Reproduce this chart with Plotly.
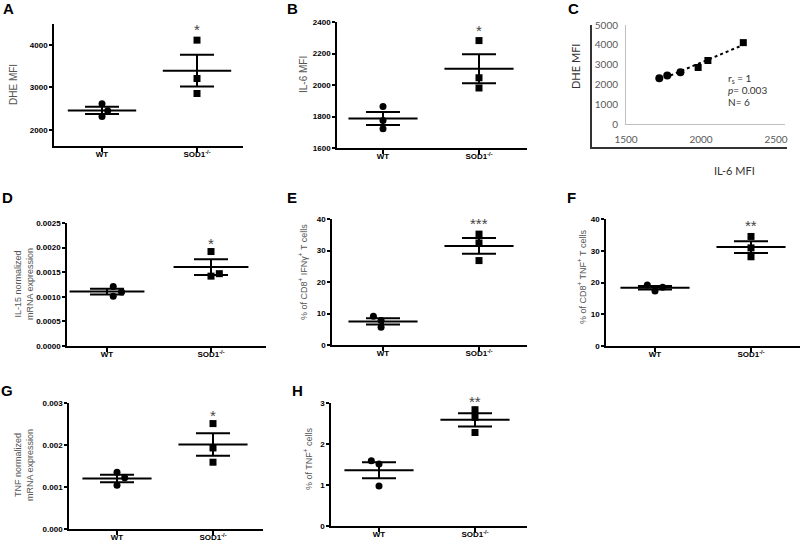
import numpy as np
import plotly.graph_objects as go

W, H = 800, 542

groups = ["WT", "SOD1<sup>-/-</sup>"]

# ---- data ----
dhe_wt = [2612, 2447, 2314]
dhe_sod1 = [4110, 3208, 2855]
il6_wt = [1863, 1775, 1722]
il6_sod1 = [2282, 2046, 1981]
il15_wt = [0.00121, 0.00101, 0.00110]
il15_sod1 = [0.00192, 0.00142, 0.00147]
ifng_wt = [9.1, 7.8, 5.6]
ifng_sod1 = [35.2, 32.4, 26.8]
cd8tnf_wt = [19.2, 17.3, 18.5]
cd8tnf_sod1 = [34.5, 30.9, 28.1]
tnfmrna_wt = [0.00135, 0.00104, 0.00122]
tnfmrna_sod1 = [0.00251, 0.00193, 0.00159]
tnfcells_wt = [1.594, 1.51, 0.973]
tnfcells_sod1 = [2.837, 2.65, 2.28]

stars = {"A": "*", "B": "*", "D": "*", "E": "***", "F": "**", "G": "*", "H": "**"}
corr_text = ["r<sub>s</sub> = 1", "<i>p</i>= 0.003", "N= 6"]

# ---- layout geometry (pixels) ----
TICKFONT = dict(family="Liberation Sans, Arial", size=8, color="black", weight="bold")

panels = [
    dict(key="A", wt=dhe_wt, ko=dhe_sod1, box=(54, 243, 24, 146), cat=(102, 197),
         yr=[1620, 4490], tv=[2000, 3000, 4000], fmt="d", sy=29,
         title="DHE MFI", tx=14, ty=85, ts=10, wdx=[0, 0.06, 0], kdx=[0, 0, 0]),
    dict(key="B", wt=il6_wt, ko=il6_sod1, box=(337, 527, 22, 148), cat=(383, 479),
         yr=[1600, 2400], tv=[1600, 1800, 2000, 2200, 2400], fmt="d", sy=30,
         title="IL-6 MFI", tx=303, ty=75, ts=10, wdx=[0, 0, 0], kdx=[0, 0, 0]),
    dict(key="D", wt=il15_wt, ko=il15_sod1, box=(67, 266, 223, 346), cat=(107, 211),
         yr=[0, 0.0025], tv=[0, 0.0005, 0.001, 0.0015, 0.002, 0.0025], fmt=".4f", sy=243,
         title="IL-15 normalized<br>mRNA expression", tx=24, ty=284, ts=9,
         wdx=[0.06, 0.06, 0.14], kdx=[0, 0, 0.08]),
    dict(key="E", wt=ifng_wt, ko=ifng_sod1, box=(332, 527, 219, 345), cat=(383, 479),
         yr=[0, 40], tv=[0, 10, 20, 30, 40], fmt="d", sy=224,
         title="% of CD8<sup>+</sup> IFNγ<sup>+</sup> T cells", tx=303, ty=272, ts=9,
         wdx=[-0.1, -0.02, -0.02], kdx=[0, 0, 0]),
    dict(key="F", wt=cd8tnf_wt, ko=cd8tnf_sod1, box=(606, 800, 219, 346), cat=(655, 751),
         yr=[0, 40], tv=[0, 10, 20, 30, 40], fmt="d", sy=225,
         title="% of CD8<sup>+</sup> TNF<sup>+</sup> T cells", tx=582, ty=277, ts=9,
         wdx=[-0.08, 0, 0.08], kdx=[0, 0, 0]),
    dict(key="G", wt=tnfmrna_wt, ko=tnfmrna_sod1, box=(69, 263, 403, 529), cat=(117, 213),
         yr=[0, 0.003], tv=[0, 0.001, 0.002, 0.003], fmt=".3f", sy=415,
         title="TNF normalized<br>mRNA expression", tx=24, ty=465, ts=9,
         wdx=[0, 0, 0.08], kdx=[0, 0, 0]),
    dict(key="H", wt=tnfcells_wt, ko=tnfcells_sod1, box=(331, 527, 403, 526), cat=(379, 475),
         yr=[0, 3], tv=[0, 1, 2, 3], fmt="d", sy=401,
         title="% of TNF<sup>+</sup> cells", tx=308, ty=459, ts=9,
         wdx=[-0.08, 0, 0], kdx=[0, 0, 0]),
]

letters = {"A": (8, 8), "B": (292, 8), "C": (573, 8), "D": (7, 198),
           "E": (292, 198), "F": (571, 198), "G": (7, 390), "H": (297, 390)}

fig = go.Figure()
layout = dict(width=W, height=H, autosize=False, margin=dict(l=0, r=0, t=0, b=0, pad=0),
              paper_bgcolor="white", plot_bgcolor="rgba(0,0,0,0)", showlegend=False)
annotations = []

def px_x(p):
    return p / W

def px_y(p):
    return 1 - p / H

for i, p in enumerate(panels, start=1):
    xa, ya = f"x{i}", f"y{i}"
    left, right, top, bottom = p["box"]
    cw, ck = p["cat"]
    sp = ck - cw
    xr = [1 - (cw - left) / sp, 2 + (right - ck) / sp]
    layout[f"xaxis{i}"] = dict(domain=[px_x(left), px_x(right)], range=xr, anchor=ya,
                               tickvals=[1, 2], ticktext=groups, ticks="outside", ticklen=4,
                               tickwidth=1.5, tickcolor="black", showline=True, linecolor="black",
                               linewidth=1.5, showgrid=False, zeroline=False, tickfont=TICKFONT,
                               automargin=False, ticklabelstandoff=-4)
    ticktext = [(f"{v:.0f}" if p["fmt"] == "d" else format(v, p["fmt"])) for v in p["tv"]]
    layout[f"yaxis{i}"] = dict(domain=[px_y(bottom), px_y(top)], range=p["yr"], anchor=xa,
                               tickvals=p["tv"], ticktext=ticktext, ticks="outside", ticklen=3,
                               tickwidth=1.5, tickcolor="black", showline=True, linecolor="black",
                               linewidth=1.5, showgrid=False, zeroline=False, tickfont=TICKFONT,
                               automargin=False)
    for g, (vals, dx, sym) in enumerate([(p["wt"], p["wdx"], "circle"), (p["ko"], p["kdx"], "square")], start=1):
        vals = np.array(vals, dtype=float)
        m = vals.mean()
        sem = vals.std(ddof=1) / np.sqrt(len(vals))
        fig.add_trace(go.Scatter(x=[g - 0.36, g + 0.36], y=[m, m], mode="lines",
                                 line=dict(color="black", width=2), xaxis=xa, yaxis=ya,
                                 hoverinfo="skip"))
        fig.add_trace(go.Scatter(x=[g], y=[m], mode="markers", marker=dict(size=1, opacity=0),
                                 error_y=dict(type="data", array=[sem], width=17, thickness=2,
                                              color="black"),
                                 xaxis=xa, yaxis=ya, hoverinfo="skip"))
        fig.add_trace(go.Scatter(x=[g + d for d in dx], y=vals, mode="markers",
                                 marker=dict(symbol=sym, size=7, color="black"),
                                 xaxis=xa, yaxis=ya))
    annotations.append(dict(text=stars[p["key"]], x=2, xref=xa, y=px_y(p["sy"]), yref="paper",
                            showarrow=False, font=dict(family="Liberation Sans, Arial", size=15,
                                                       color="#444444"),
                            xanchor="center", yanchor="middle"))
    annotations.append(dict(text=p["title"], x=px_x(p["tx"]), y=px_y(p["ty"]), xref="paper",
                            yref="paper", textangle=-90, showarrow=False,
                            font=dict(family="Liberation Sans, Arial", size=p["ts"], color="#555555"),
                            xanchor="center", yanchor="middle"))

# ---- panel C: correlation ----
n = len(panels) + 1
xa, ya = f"x{n}", f"y{n}"
cx = np.array(il6_wt + il6_sod1, dtype=float)
cy = np.array(dhe_wt + dhe_sod1, dtype=float)
CFONT = dict(family="Lato, Liberation Sans", size=10, color="#595959")
layout[f"xaxis{n}"] = dict(domain=[px_x(626), px_x(785)], range=[1500, 2560], anchor=ya,
                           tickvals=[1500, 2000, 2500], ticks="outside", ticklen=6,
                           tickcolor="rgba(0,0,0,0)", showline=True, linecolor="#bfbfbf",
                           linewidth=1, showgrid=False, zeroline=False, tickfont=CFONT,
                           automargin=False)
layout[f"yaxis{n}"] = dict(domain=[px_y(124), px_y(25)], range=[0, 5000], anchor=xa,
                           tickvals=[0, 1000, 2000, 3000, 4000, 5000], ticks="outside", ticklen=5,
                           tickcolor="rgba(0,0,0,0)", showline=True, linecolor="#bfbfbf",
                           linewidth=1, showgrid=False, zeroline=False, tickfont=CFONT,
                           automargin=False)
slope, icpt = np.polyfit(cx, cy, 1)
lx = np.array([cx.min(), cx.max()])
fig.add_trace(go.Scatter(x=lx, y=slope * lx + icpt, mode="lines",
                         line=dict(color="black", width=2, dash="dot"), xaxis=xa, yaxis=ya))
fig.add_trace(go.Scatter(x=il6_wt, y=dhe_wt, mode="markers",
                         marker=dict(symbol="circle", size=8, color="black"), xaxis=xa, yaxis=ya))
fig.add_trace(go.Scatter(x=il6_sod1, y=dhe_sod1, mode="markers",
                         marker=dict(symbol="square", size=7, color="black"), xaxis=xa, yaxis=ya))

# outer frame of panel C
m2 = n + 1
layout[f"xaxis{m2}"] = dict(domain=[px_x(592), px_x(787)], range=[0, 1], anchor=f"y{m2}",
                            showline=True, linecolor="#333333", linewidth=1.5, showticklabels=False,
                            ticks="", showgrid=False, zeroline=False, automargin=False)
layout[f"yaxis{m2}"] = dict(domain=[px_y(147), px_y(25)], range=[0, 1], anchor=f"x{m2}",
                            showline=True, linecolor="#333333", linewidth=1.5, showticklabels=False,
                            ticks="", showgrid=False, zeroline=False, automargin=False)
fig.add_trace(go.Scatter(x=[None], y=[None], xaxis=f"x{m2}", yaxis=f"y{m2}", mode="markers"))

CTEXT = dict(family="Lato, Liberation Sans", size=11, color="#333333")
annotations.append(dict(text="DHE MFI", x=px_x(584), y=px_y(42), xref="paper", yref="paper",
                        textangle=-90, showarrow=False, font=CTEXT))
annotations.append(dict(text="IL-6 MFI", x=px_x(757), y=px_y(162), xref="paper", yref="paper",
                        showarrow=False, font=CTEXT))
for j, (t, yy) in enumerate(zip(corr_text, [78, 90, 102])):
    annotations.append(dict(text=t, x=px_x(726), y=px_y(yy), xref="paper", yref="paper",
                            showarrow=False, xanchor="left", yanchor="middle",
                            font=dict(family="Lato, Liberation Sans", size=10, color="#333333")))

for k, (lx_, ly_) in letters.items():
    annotations.append(dict(text=f"<b>{k}</b>", x=px_x(lx_), y=px_y(ly_), xref="paper",
                            yref="paper", showarrow=False, xanchor="center", yanchor="middle",
                            font=dict(family="Liberation Sans, Arial", size=15, color="black")))

layout["annotations"] = annotations
fig.update_layout(**layout)
fig.write_html("out.html", config={"displayModeBar": False},
               post_script="document.body.style.margin='0px';")
